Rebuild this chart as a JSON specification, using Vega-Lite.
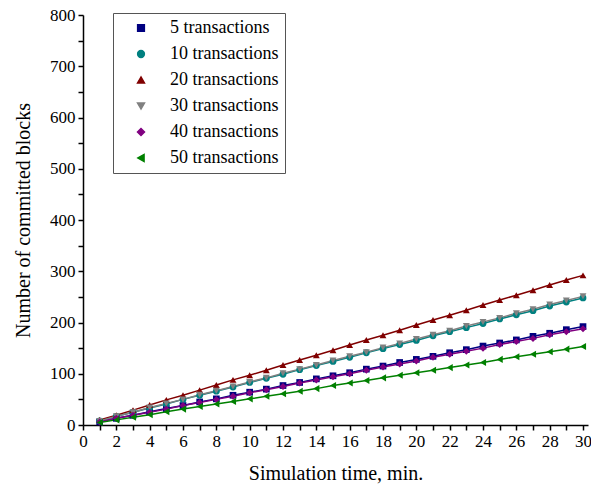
{
  "$schema": "https://vega.github.io/schema/vega-lite/v6.json",
  "width": 505,
  "height": 410,
  "autosize": {"type": "none"},
  "padding": {"left": 83, "top": 15, "right": 3, "bottom": 66},
  "config": {"view": {"stroke": null}, "font": "Liberation Serif"},
  "data": {"values": [
    {"t": 1, "5 transactions": 6, "10 transactions": 8, "20 transactions": 10, "30 transactions": 8, "40 transactions": 6, "50 transactions": 5},
    {"t": 2, "5 transactions": 13, "10 transactions": 17, "20 transactions": 19, "30 transactions": 17, "40 transactions": 13, "50 transactions": 10},
    {"t": 3, "5 transactions": 19, "10 transactions": 25, "20 transactions": 29, "30 transactions": 25, "40 transactions": 19, "50 transactions": 15},
    {"t": 4, "5 transactions": 26, "10 transactions": 33, "20 transactions": 39, "30 transactions": 34, "40 transactions": 25, "50 transactions": 20},
    {"t": 5, "5 transactions": 32, "10 transactions": 41, "20 transactions": 49, "30 transactions": 42, "40 transactions": 31, "50 transactions": 26},
    {"t": 6, "5 transactions": 38, "10 transactions": 50, "20 transactions": 58, "30 transactions": 50, "40 transactions": 38, "50 transactions": 31},
    {"t": 7, "5 transactions": 45, "10 transactions": 58, "20 transactions": 68, "30 transactions": 59, "40 transactions": 44, "50 transactions": 36},
    {"t": 8, "5 transactions": 51, "10 transactions": 66, "20 transactions": 78, "30 transactions": 67, "40 transactions": 50, "50 transactions": 41},
    {"t": 9, "5 transactions": 58, "10 transactions": 74, "20 transactions": 88, "30 transactions": 75, "40 transactions": 56, "50 transactions": 46},
    {"t": 10, "5 transactions": 64, "10 transactions": 83, "20 transactions": 97, "30 transactions": 84, "40 transactions": 63, "50 transactions": 51},
    {"t": 11, "5 transactions": 70, "10 transactions": 91, "20 transactions": 107, "30 transactions": 92, "40 transactions": 69, "50 transactions": 56},
    {"t": 12, "5 transactions": 77, "10 transactions": 99, "20 transactions": 117, "30 transactions": 101, "40 transactions": 75, "50 transactions": 61},
    {"t": 13, "5 transactions": 83, "10 transactions": 108, "20 transactions": 127, "30 transactions": 109, "40 transactions": 82, "50 transactions": 66},
    {"t": 14, "5 transactions": 90, "10 transactions": 116, "20 transactions": 136, "30 transactions": 117, "40 transactions": 88, "50 transactions": 71},
    {"t": 15, "5 transactions": 96, "10 transactions": 124, "20 transactions": 146, "30 transactions": 126, "40 transactions": 94, "50 transactions": 77},
    {"t": 16, "5 transactions": 102, "10 transactions": 132, "20 transactions": 156, "30 transactions": 134, "40 transactions": 100, "50 transactions": 82},
    {"t": 17, "5 transactions": 109, "10 transactions": 141, "20 transactions": 166, "30 transactions": 142, "40 transactions": 107, "50 transactions": 87},
    {"t": 18, "5 transactions": 115, "10 transactions": 149, "20 transactions": 175, "30 transactions": 151, "40 transactions": 113, "50 transactions": 92},
    {"t": 19, "5 transactions": 122, "10 transactions": 157, "20 transactions": 185, "30 transactions": 159, "40 transactions": 119, "50 transactions": 97},
    {"t": 20, "5 transactions": 128, "10 transactions": 165, "20 transactions": 195, "30 transactions": 168, "40 transactions": 125, "50 transactions": 102},
    {"t": 21, "5 transactions": 134, "10 transactions": 174, "20 transactions": 205, "30 transactions": 176, "40 transactions": 132, "50 transactions": 107},
    {"t": 22, "5 transactions": 141, "10 transactions": 182, "20 transactions": 214, "30 transactions": 184, "40 transactions": 138, "50 transactions": 112},
    {"t": 23, "5 transactions": 147, "10 transactions": 190, "20 transactions": 224, "30 transactions": 193, "40 transactions": 144, "50 transactions": 117},
    {"t": 24, "5 transactions": 154, "10 transactions": 198, "20 transactions": 234, "30 transactions": 201, "40 transactions": 150, "50 transactions": 122},
    {"t": 25, "5 transactions": 160, "10 transactions": 207, "20 transactions": 244, "30 transactions": 209, "40 transactions": 157, "50 transactions": 128},
    {"t": 26, "5 transactions": 166, "10 transactions": 215, "20 transactions": 253, "30 transactions": 218, "40 transactions": 163, "50 transactions": 133},
    {"t": 27, "5 transactions": 173, "10 transactions": 223, "20 transactions": 263, "30 transactions": 226, "40 transactions": 169, "50 transactions": 138},
    {"t": 28, "5 transactions": 179, "10 transactions": 232, "20 transactions": 273, "30 transactions": 235, "40 transactions": 176, "50 transactions": 143},
    {"t": 29, "5 transactions": 186, "10 transactions": 240, "20 transactions": 283, "30 transactions": 243, "40 transactions": 182, "50 transactions": 148},
    {"t": 30, "5 transactions": 192, "10 transactions": 248, "20 transactions": 292, "30 transactions": 251, "40 transactions": 188, "50 transactions": 153}
  ]},
  "transform": [
    {"fold": ["5 transactions", "10 transactions", "20 transactions", "30 transactions", "40 transactions", "50 transactions"], "as": ["series", "blocks"]}
  ],
  "encoding": {
    "x": {
      "field": "t", "type": "quantitative",
      "scale": {"domain": [0, 30.3], "nice": false, "zero": false},
      "axis": {
        "title": "Simulation time, min.",
        "values": [0,1,2,3,4,5,6,7,8,9,10,11,12,13,14,15,16,17,18,19,20,21,22,23,24,25,26,27,28,29,30],
        "labelExpr": "datum.value % 2 === 0 ? datum.label : ''",
        "grid": false,
        "domainColor": "black", "domainWidth": 1.5,
        "tickColor": "black", "tickWidth": 1.5, "tickSize": 5,
        "labelFont": "Liberation Serif", "labelFontSize": 17, "labelColor": "black", "labelPadding": 3,
        "labelFlush": false, "labelOverlap": false,
        "titleFont": "Liberation Serif", "titleFontSize": 20, "titleFontWeight": "normal", "titleColor": "black", "titlePadding": 14,
        "encode": {"ticks": {"enter": {"y2": {"signal": "datum.value % 2 ? 3 : 5"}}, "update": {"y2": {"signal": "datum.value % 2 ? 3 : 5"}}}}
      }
    },
    "y": {
      "field": "blocks", "type": "quantitative",
      "scale": {"domain": [0, 800], "nice": false},
      "axis": {
        "title": "Number of committed blocks",
        "values": [0,50,100,150,200,250,300,350,400,450,500,550,600,650,700,750,800],
        "labelExpr": "datum.value % 100 === 0 ? datum.label : ''",
        "grid": false,
        "domainColor": "black", "domainWidth": 1.5,
        "tickColor": "black", "tickWidth": 1.5, "tickSize": 5,
        "labelFont": "Liberation Serif", "labelFontSize": 17, "labelColor": "black", "labelPadding": 3,
        "labelFlush": false, "labelOverlap": false,
        "titleFont": "Liberation Serif", "titleFontSize": 20, "titleFontWeight": "normal", "titleColor": "black", "titlePadding": 16,
        "encode": {"ticks": {"enter": {"x2": {"signal": "datum.value % 100 ? -3 : -5"}}, "update": {"x2": {"signal": "datum.value % 100 ? -3 : -5"}}}}
      }
    },
    "color": {
      "field": "series", "type": "nominal",
      "scale": {
        "domain": ["5 transactions", "10 transactions", "20 transactions", "30 transactions", "40 transactions", "50 transactions"],
        "range": ["#000080", "#008080", "#800000", "#808080", "#800080", "#008000"]
      },
      "legend": {
        "orient": "none", "legendX": 30, "legendY": -2,
        "title": null,
        "labelFont": "Liberation Serif", "labelFontSize": 18, "labelColor": "black",
        "padding": 6, "rowPadding": 8,
        "strokeColor": "#555555", "fillColor": "white",
        "symbolSize": 100,
        "encode": {
          "symbols": {
            "update": {
              "x": {"value": 22},
              "y": {"value": 9},
              "shape": {"value": {"expr": "datum.value === '5 transactions' ? 'M-4.4,0H4.4M-0.6,-0.6H0.6V0.6H-0.6Z' : datum.value === '10 transactions' ? 'M-4.4,0H4.4M0.65,0A0.65,0.65 0 1,1 -0.65,0A0.65,0.65 0 1,1 0.65,0Z' : datum.value === '20 transactions' ? 'M-4.4,0H4.4M0,-0.85L0.85,0.6H-0.85Z' : datum.value === '30 transactions' ? 'M-4.4,0H4.4M0,0.85L0.85,-0.6H-0.85Z' : datum.value === '40 transactions' ? 'M-4.4,0H4.4M0,-0.9L0.75,0L0,0.9L-0.75,0Z' : 'M-4.4,0H4.4M-0.85,0L0.6,-0.85V0.85Z'"}},
              "stroke": {"value": {"expr": "datum.value === '5 transactions' ? '#000080' : datum.value === '10 transactions' ? '#008080' : datum.value === '20 transactions' ? '#800000' : datum.value === '30 transactions' ? '#808080' : datum.value === '40 transactions' ? '#800080' : '#008000'"}},
              "strokeWidth": {"value": 1.5},
              "size": {"value": 100},
              "opacity": {"value": 1},
              "fillOpacity": {"value": 1},
              "strokeOpacity": {"value": 1}
            }
          },
          "labels": {
            "update": {
              "x": {"value": 51},
              "y": {"value": 9},
              "align": {"value": "left"},
              "baseline": {"value": "middle"}
            }
          }
        }
      }
    }
  },
  "layer": [
    {"mark": {"type": "line", "strokeWidth": 1.5}},
    {
      "mark": {"type": "point", "filled": true, "opacity": 1},
      "encoding": {
        "shape": {
          "field": "series", "type": "nominal",
          "scale": {
            "domain": ["5 transactions", "10 transactions", "20 transactions", "30 transactions", "40 transactions", "50 transactions"],
            "range": ["square", "circle", "triangle-up", "triangle-down", "diamond", "triangle-left"]
          },
          "legend": null
        },
        "size": {
          "field": "series", "type": "ordinal",
          "scale": {
            "domain": ["5 transactions", "10 transactions", "20 transactions", "30 transactions", "40 transactions", "50 transactions"],
            "range": [45, 50, 70, 70, 60, 70]
          },
          "legend": null
        }
      }
    }
  ]
}
